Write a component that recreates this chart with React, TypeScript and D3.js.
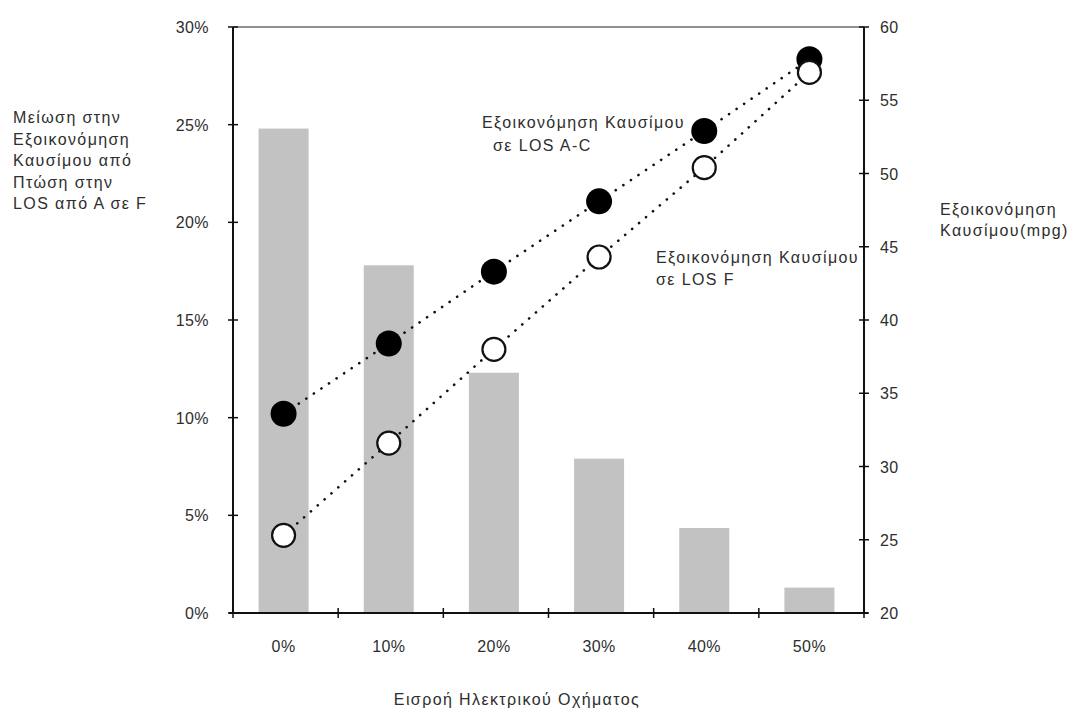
import React from "react";
import * as d3 from "d3";

// Electric vehicle penetration categories
const categories = ["0%", "10%", "20%", "30%", "40%", "50%"];
// Reduction in fuel savings from LOS drop A -> F (left axis, fraction)
const reductionValues = [0.248, 0.178, 0.123, 0.079, 0.0435, 0.013];
// Fuel economy (mpg) at LOS A-C (right axis)
const mpgLosAC = [33.6, 38.4, 43.3, 48.1, 52.9, 57.8];
// Fuel economy (mpg) at LOS F (right axis)
const mpgLosF = [25.3, 31.6, 38.0, 44.3, 50.4, 56.9];
const leftTicks = [0, 0.05, 0.1, 0.15, 0.2, 0.25, 0.3];
const rightTicks = [20, 25, 30, 35, 40, 45, 50, 55, 60];
const leftTitle = ["Μείωση στην", "Εξοικονόμηση", "Καυσίμου από", "Πτώση στην", "LOS από  Α σε F"];

const W = 1070;
const H = 711;
const plot = { left: 233, right: 864, top: 27, bottom: 613 };
const FONT = "'Liberation Sans', Arial, sans-serif";
const TXT = "#2e2e2e";
const LS = 1.4; // letter spacing for the wide label text

export default function App() {
  const x = d3
    .scaleBand<string>()
    .domain(categories)
    .range([plot.left, plot.right])
    .paddingInner(0)
    .paddingOuter(0);
  const yL = d3.scaleLinear().domain([0, 0.3]).range([plot.bottom, plot.top]);
  const yR = d3.scaleLinear().domain([20, 60]).range([plot.bottom, plot.top]);
  const barW = 50;
  const cx = (c: string) => (x(c) as number) + x.bandwidth() / 2 - 2;

  const line = (vals: number[]) =>
    d3
      .line<number>()
      .x((_, i) => cx(categories[i]))
      .y((v) => yR(v))(vals) as string;

  const boundaries = categories.map((c) => x(c) as number).concat([plot.right]);

  return (
    <svg
      width={W}
      height={H}
      style={{ position: "absolute", left: 0, top: 0, background: "#fff" }}
      fontFamily={FONT}
    >
      <rect width={W} height={H} fill="#fff" />
      {/* bars */}
      {categories.map((c, i) => (
        <rect
          key={c}
          x={cx(c) - barW / 2}
          y={yL(reductionValues[i])}
          width={barW}
          height={plot.bottom - yL(reductionValues[i])}
          fill="#c2c2c2"
        />
      ))}
      {/* frame */}
      <line x1={plot.left} x2={plot.right} y1={plot.top} y2={plot.top} stroke="#222" strokeWidth={1.2} />
      <line x1={plot.left} x2={plot.left} y1={plot.top} y2={plot.bottom} stroke="#111" strokeWidth={2} />
      <line x1={plot.right} x2={plot.right} y1={plot.top} y2={plot.bottom} stroke="#111" strokeWidth={2} />
      <line x1={plot.left - 4} x2={plot.right + 4} y1={plot.bottom} y2={plot.bottom} stroke="#111" strokeWidth={2} />
      {/* left ticks */}
      {leftTicks.map((t) => (
        <g key={"l" + t}>
          <line x1={plot.left - 5} x2={plot.left + 5} y1={yL(t)} y2={yL(t)} stroke="#111" strokeWidth={1.5} />
          <text x={plot.left - 24} y={yL(t) + 6} textAnchor="end" fontSize={16} letterSpacing={0.4} fill={TXT}>
            {d3.format(".0%")(t)}
          </text>
        </g>
      ))}
      {/* right ticks */}
      {rightTicks.map((t) => (
        <g key={"r" + t}>
          <line x1={plot.right - 5} x2={plot.right + 5} y1={yR(t)} y2={yR(t)} stroke="#111" strokeWidth={1.5} />
          <text x={plot.right + 16} y={yR(t) + 6} textAnchor="start" fontSize={16} letterSpacing={0.4} fill={TXT}>
            {t}
          </text>
        </g>
      ))}
      {/* bottom ticks at category boundaries */}
      {boundaries.map((b, i) => (
        <line key={"b" + i} x1={b} x2={b} y1={plot.bottom - 5} y2={plot.bottom + 5} stroke="#111" strokeWidth={1.5} />
      ))}
      {categories.map((c) => (
        <text key={"c" + c} x={cx(c)} y={plot.bottom + 39} textAnchor="middle" fontSize={16} letterSpacing={0.4} fill={TXT}>
          {c}
        </text>
      ))}
      {/* dotted connectors */}
      <path d={line(mpgLosAC)} fill="none" stroke="#111" strokeWidth={2.6} strokeDasharray="0.1 9" strokeLinecap="round" />
      <path d={line(mpgLosF)} fill="none" stroke="#111" strokeWidth={2.6} strokeDasharray="0.1 9" strokeLinecap="round" />
      {/* markers */}
      {mpgLosAC.map((v, i) => (
        <circle key={"a" + i} cx={cx(categories[i])} cy={yR(v)} r={13} fill="#000" />
      ))}
      {mpgLosF.map((v, i) => (
        <circle key={"f" + i} cx={cx(categories[i])} cy={yR(v)} r={11.5} fill="#fff" stroke="#111" strokeWidth={2.2} />
      ))}
      {/* annotations */}
      <g fontSize={16} letterSpacing={LS} fill={TXT}>
        <text x={482} y={128}>Εξοικονόμηση Καυσίμου</text>
        <text x={493} y={151}>σε LOS  A-C</text>
        <text x={656} y={263}>Εξοικονόμηση Καυσίμου</text>
        <text x={656} y={285}>σε LOS F</text>
        {/* left axis title */}
        {leftTitle.map((s, i) => (
          <text key={"lt" + i} x={13} y={123 + i * 21.5}>
            {s}
          </text>
        ))}
        {/* right axis title */}
        <text x={940} y={215}>Εξοικονόμηση</text>
        <text x={940} y={236}>Καυσίμου(mpg)</text>
        {/* x axis title */}
        <text x={517} y={705} textAnchor="middle">Εισροή Ηλεκτρικού Οχήματος</text>
      </g>
    </svg>
  );
}
